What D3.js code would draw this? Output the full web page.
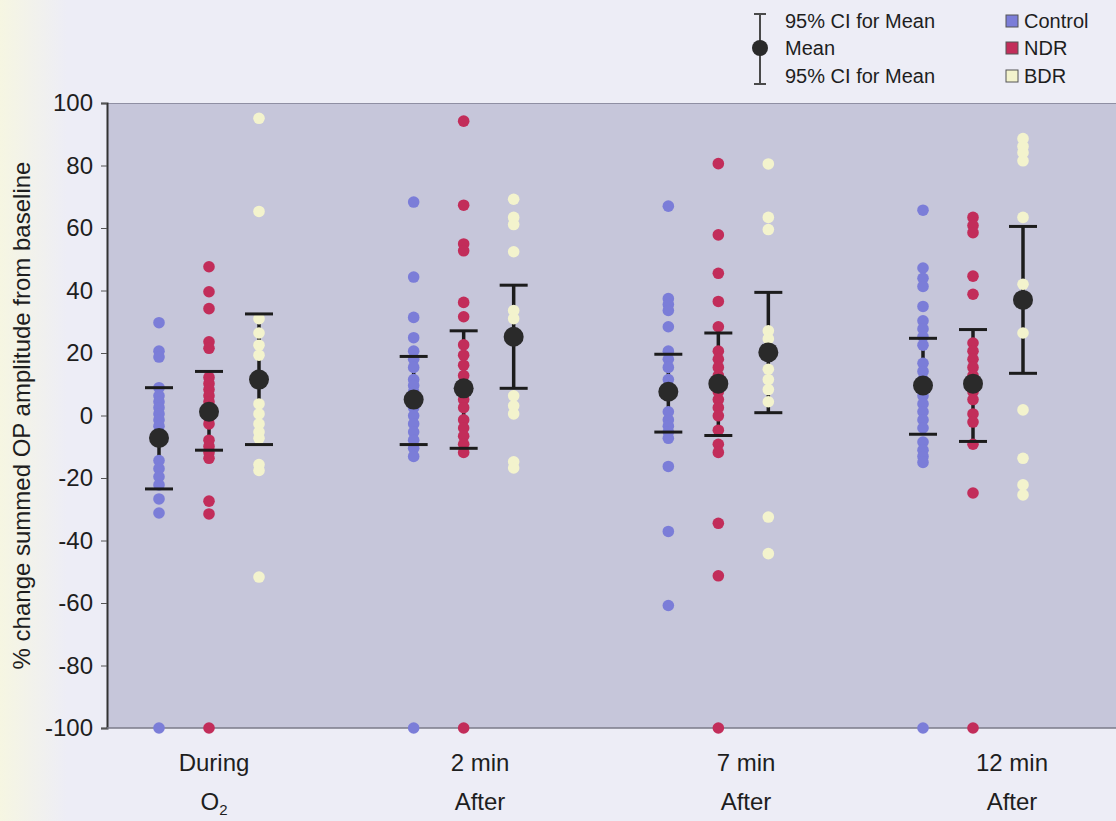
<!DOCTYPE html>
<html>
<head>
<meta charset="utf-8">
<script src="https://cdn.jsdelivr.net/npm/d3@7"></script>
<style>
  body { margin: 0; background: #ededf6; }
  svg { display: block; }
  text { font-family: "Liberation Sans", Arial, Helvetica, sans-serif; fill: #1e1e1e; }
</style>
</head>
<body>
<svg id="chart" width="1116" height="821"></svg>
<script>
// ---- data ----
const groups = ["During O2", "2 min After", "7 min After", "12 min After"];
const groupLabelTop = ["During", "2 min", "7 min", "12 min"];
const groupLabelBottom = ["O", "After", "After", "After"];
const groupLabelSub = ["2", "", "", ""];

const series = ["Control", "NDR", "BDR"];
const seriesColors = ["#7b7dd8", "#c22d5a", "#f3f3cd"];

// individual % change values per group
const controlValues = [
  [29.7, 20.6, 18.7, 8.9, 6.3, 4.4, 2.5, 0.5, -1.4, -3.4, -5.3, -7.9, -14.4, -17, -19.6, -22.2, -26.7, -31.2, -100],
  [68.3, 44.3, 31.4, 24.9, 20.6, 18, 15.4, 11.5, 9.6, 7.6, 5.1, 2.5, -0.1, -2.7, -5.3, -7.9, -10.5, -13.1, -100],
  [67, 37.4, 35.5, 33.6, 28.4, 20.6, 18, 15.4, 11.5, 1.2, -1.4, -3.4, -5.3, -7.3, -16.3, -37.1, -60.8],
  [65.7, 47.2, 43.9, 41.3, 34.9, 30.3, 27.7, 25.2, 22.5, 16.7, 14.1, 11.5, 6.3, 3.7, 1.2, -1.4, -4.0, -8.5, -11.1, -13.1, -15, -100]
];
const ndrValues = [
  [47.6, 39.6, 34.2, 23.6, 21.5, 12.2, 10.2, 8.3, 6.3, 4.4, 2.5, -0.8, -2.7, -7.9, -9.9, -11.8, -13.7, -27.4, -31.5, -100],
  [94.2, 67.3, 54.9, 52.7, 36.2, 31.6, 22.6, 19.3, 16.1, 12.8, 10.2, 7.6, 5.1, 2.5, -1.4, -4.0, -6.6, -9.2, -11.8, -100],
  [80.6, 57.8, 45.5, 36.5, 28.4, 20.6, 18, 15.4, 12.8, 10.2, 7.6, 5.1, 2.5, -0.1, -4.7, -9.2, -11.8, -34.5, -51.3, -100],
  [63.4, 60.8, 58.5, 44.6, 38.8, 23.2, 20.6, 18, 15.4, 12.8, 10.2, 7.6, 5.1, 0.5, -2.1, -9.2, -24.8, -100]
];
const bdrValues = [
  [95.1, 65.3, 31, 26.4, 22.5, 19.3, 3.7, 0.5, -2.7, -5.3, -7.3, -15.7, -17.6, -51.7],
  [69.2, 63.4, 61.1, 52.4, 33.6, 31, 6.3, 3.1, 0.5, -14.8, -16.8],
  [80.5, 63.4, 59.5, 27.1, 24.5, 14.8, 11.5, 8.3, 4.4, -32.5, -44.2],
  [88.6, 86.1, 84.1, 81.5, 63.4, 42, 26.4, 1.8, -13.7, -22.2, -25.4]
];

// mean and 95% CI per group
const controlMean = [-7.2, 5.1, 7.6, 9.6];
const controlLow  = [-23.5, -9.3, -5.3, -6.0];
const controlHigh = [8.9, 18.9, 19.6, 24.7];
const ndrMean = [1.2, 8.7, 10.2, 10.2];
const ndrLow  = [-11.1, -10.5, -6.4, -8.3];
const ndrHigh = [14.1, 27.1, 26.4, 27.5];
const bdrMean = [11.5, 25.2, 20.2, 37.0];
const bdrLow  = [-9.3, 8.7, 0.9, 13.5];
const bdrHigh = [32.5, 41.7, 39.4, 60.5];

const yTicks = [100, 80, 60, 40, 20, 0, -20, -40, -60, -80, -100];
const yTitle = "% change summed OP amplitude from baseline";
const legendStats = ["95% CI for Mean", "Mean", "95% CI for Mean"];

// ---- layout ----
const svg = d3.select("#chart");
const W = 1116, H = 821;
const plot = { left: 107, right: 1116, top: 103, bottom: 728 };

// soft paper tint along the left edge
const defs = svg.append("defs");
const grad = defs.append("linearGradient").attr("id", "paper").attr("x1", 0).attr("x2", 1).attr("y1", 0).attr("y2", 0);
grad.append("stop").attr("offset", "0").attr("stop-color", "#f6f6e2");
grad.append("stop").attr("offset", "0.06").attr("stop-color", "#ededf6");
grad.append("stop").attr("offset", "1").attr("stop-color", "#ededf6");
svg.append("rect").attr("width", W).attr("height", H).attr("fill", "url(#paper)");

const y = d3.scaleLinear().domain([-100, 100]).range([plot.bottom, plot.top]);
const xGroup = d3.scalePoint().domain(groups).range([209, 973]);
const xSeries = d3.scalePoint().domain(series).range([-50, 50]);
const xLabel = d3.scalePoint().domain(groups).range([214, 1012]);

// plot background
svg.append("rect")
  .attr("x", plot.left).attr("y", plot.top)
  .attr("width", plot.right - plot.left).attr("height", plot.bottom - plot.top)
  .attr("fill", "#c6c6da");
svg.append("line")
  .attr("x1", plot.left).attr("x2", plot.right)
  .attr("y1", plot.top + 0.5).attr("y2", plot.top + 0.5)
  .attr("stroke", "#8f8fa3").attr("stroke-width", 1);

// y axis
const yAxis = svg.append("g")
  .attr("transform", `translate(${plot.left},0)`)
  .call(d3.axisLeft(y).tickValues(yTicks).tickSize(6).tickPadding(8).tickFormat(d => String(d)));
yAxis.select(".domain").attr("stroke", "#333").attr("stroke-width", 2);
yAxis.selectAll(".tick line").attr("stroke", "#555");
yAxis.selectAll(".tick text").style("font-size", "24px").attr("fill", "#1e1e1e");

// x axis (line only, two-line labels)
svg.append("line")
  .attr("x1", plot.left).attr("x2", plot.right)
  .attr("y1", plot.bottom).attr("y2", plot.bottom)
  .attr("stroke", "#7a7a88").attr("stroke-width", 1.5);

const xl = svg.append("g").selectAll("g").data(groups).join("g")
  .attr("transform", d => `translate(${xLabel(d)},0)`);
xl.append("text")
  .attr("y", 771).attr("text-anchor", "middle").style("font-size", "24px")
  .text((d, i) => groupLabelTop[i]);
const bottomText = xl.append("text")
  .attr("y", 810).attr("text-anchor", "middle").style("font-size", "24px");
bottomText.append("tspan").text((d, i) => groupLabelBottom[i]);
bottomText.append("tspan")
  .attr("dy", 5).style("font-size", "15px")
  .text((d, i) => groupLabelSub[i]);

// y title
svg.append("text")
  .attr("transform", `translate(30,${(plot.top + plot.bottom) / 2}) rotate(-90)`)
  .attr("text-anchor", "middle").style("font-size", "24px")
  .text(yTitle);

// ---- marks ----
const valueSets = [controlValues, ndrValues, bdrValues];
const meanSets = [controlMean, ndrMean, bdrMean];
const lowSets = [controlLow, ndrLow, bdrLow];
const highSets = [controlHigh, ndrHigh, bdrHigh];

const points = [];
const stats = [];
series.forEach((s, si) => {
  groups.forEach((g, gi) => {
    valueSets[si][gi].forEach(v => points.push({ s, si, g, v }));
    stats.push({ s, si, g, mean: meanSets[si][gi], lo: lowSets[si][gi], hi: highSets[si][gi] });
  });
});
const cx = d => xGroup(d.g) + xSeries(d.s);

// CI stems
svg.append("g").selectAll("line").data(stats).join("line")
  .attr("x1", cx).attr("x2", cx)
  .attr("y1", d => y(d.hi)).attr("y2", d => y(d.lo))
  .attr("stroke", "#1c1c1c").attr("stroke-width", 3.5);

// individual values
svg.append("g").selectAll("circle").data(points).join("circle")
  .attr("cx", cx).attr("cy", d => y(d.v)).attr("r", 5.8)
  .attr("fill", d => seriesColors[d.si]);

// CI caps
const caps = svg.append("g");
["lo", "hi"].forEach(k => {
  caps.append("g").selectAll("line").data(stats).join("line")
    .attr("x1", d => cx(d) - 14).attr("x2", d => cx(d) + 14)
    .attr("y1", d => y(d[k])).attr("y2", d => y(d[k]))
    .attr("stroke", "#1c1c1c").attr("stroke-width", 3);
});

// means
svg.append("g").selectAll("circle").data(stats).join("circle")
  .attr("cx", cx).attr("cy", d => y(d.mean)).attr("r", 10)
  .attr("fill", "#2a2a2a");

// ---- legend ----
const lg = svg.append("g");
const rowY = [21, 48, 76];
lg.append("line").attr("x1", 760).attr("x2", 760).attr("y1", 14).attr("y2", 84)
  .attr("stroke", "#4a4a4a").attr("stroke-width", 2);
[14, 84].forEach(yy => lg.append("line")
  .attr("x1", 754).attr("x2", 766).attr("y1", yy).attr("y2", yy)
  .attr("stroke", "#4a4a4a").attr("stroke-width", 2));
lg.append("circle").attr("cx", 760).attr("cy", 48).attr("r", 8).attr("fill", "#2a2a2a");
lg.selectAll("text.stat").data(legendStats).join("text").attr("class", "stat")
  .attr("x", 785).attr("y", (d, i) => rowY[i] + 7).style("font-size", "20px").text(d => d);

const sw = lg.selectAll("g.sw").data(series).join("g").attr("class", "sw")
  .attr("transform", (d, i) => `translate(1006,${rowY[i]})`);
sw.append("rect").attr("x", 0).attr("y", -6).attr("width", 12).attr("height", 12)
  .attr("fill", (d, i) => seriesColors[i]).attr("stroke", "#555").attr("stroke-width", 1);
sw.append("text").attr("x", 18).attr("y", 7).style("font-size", "20px").text(d => d);
</script>
</body>
</html>
